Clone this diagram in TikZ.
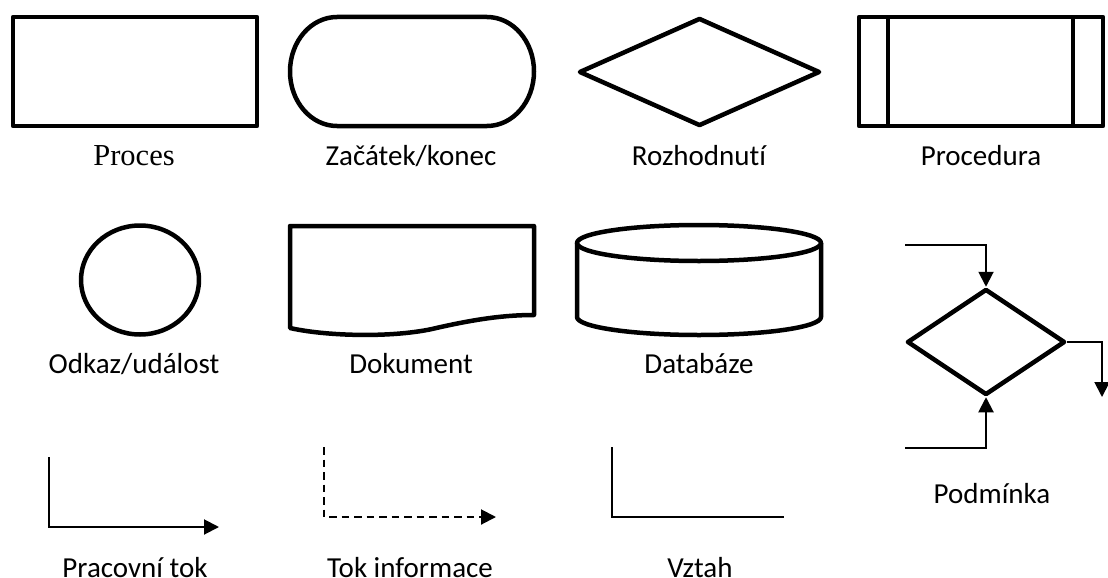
\documentclass[tikz,border=0pt]{standalone}
\usepackage{fontspec}
\setmainfont{Carlito}[Ligatures={NoCommon,NoContextual}]
\newfontfamily\serifface{Liberation Serif}
\usetikzlibrary{arrows.meta,shapes.geometric}

\tikzset{
  symbol/.style={draw, line width=4.5pt, line join=round, inner sep=0pt},
  flowline/.style={line width=2pt},
  flowtip/.style={-{Triangle[length=15pt,width=15pt]}},
  infoline/.style={line width=2pt, dash pattern=on 7.5pt off 5pt},
  relline/.style={line width=1.8pt},
  caption/.style={anchor=base, inner sep=0pt, font=\fontsize{29}{32}\selectfont},
}

\begin{document}
\begin{tikzpicture}[x=1pt, y=-1pt]
\useasboundingbox (0,0) rectangle (1108,578);

% ---------- first row ----------
% process
\node[symbol, rectangle, minimum width=244pt, minimum height=109pt] (proc) at (135,71.5) {};
\node[caption, font=\fontsize{30.5}{32}\selectfont\serifface] (lproc) at (134,165) {Proces};

% start / end (stadium with elliptical ends)
\draw[symbol] (337,17) -- (487,17)
  arc[start angle=-90, end angle=90, x radius=47, y radius=54.5]
  -- (337,126)
  arc[start angle=90, end angle=270, x radius=47, y radius=54.5] -- cycle;
\node[caption] (lstart) at (411,165) {Začátek/konec};

% decision
\node[symbol, diamond, minimum width=241pt, minimum height=108pt] (dec) at (699.5,72) {};
\node[caption] (ldec) at (699,165) {Rozhodnutí};

% predefined procedure
\node[symbol, rectangle, minimum width=244pt, minimum height=109pt] (sub) at (981,71.5) {};
\draw[line width=4.5pt] (888,17) -- (888,126);
\draw[line width=4.5pt] (1073,17) -- (1073,126);
\node[caption] (lsub) at (981,165) {Procedura};

% ---------- second row ----------
% connector / event
\node[symbol, ellipse, minimum width=118pt, minimum height=109pt] (evt) at (140,280) {};
\node[caption] (levt) at (134,373) {Odkaz/událost};

% document
\draw[symbol] (290,226) -- (534,226) -- (534,315)
  .. controls (505,315) and (475,319) .. (432,329)
  .. controls (390,338) and (325,336) .. (290,328) -- cycle;
\node[caption] (ldoc) at (411,373) {Dokument};

% database
\draw[symbol] (577,243) -- (577,317)
  arc[start angle=180, end angle=0, x radius=122, y radius=18]
  -- (821,243);
\draw[symbol] (699,243) ellipse[x radius=122, y radius=18];
\node[caption] (ldb) at (699,373) {Databáze};

% condition with incoming and outgoing flows
\node[symbol, diamond, minimum width=158pt, minimum height=106pt] (cond) at (986,342) {};
\coordinate (inA) at (905,245);
\coordinate (inB) at (905,448);
\coordinate (outC) at (1102,397);
\draw[flowline, flowtip] (inA) -| (cond.north);
\draw[flowline, flowtip] (inB) -| (cond.south);
\draw[flowline, flowtip] (cond.east) -| (outC);
\node[caption] (lcond) at (992,503) {Podmínka};

% ---------- third row ----------
% work flow
\coordinate (wf1) at (49,457);
\coordinate (wf2) at (219,527);
\draw[flowline, flowtip] (wf1) |- (wf2);
\node[caption] (lwf) at (135,577) {Pracovní tok};

% information flow
\coordinate (if1) at (324,447);
\coordinate (if2) at (496,517);
\draw[infoline, flowtip] (if1) |- (if2);
\node[caption] (lif) at (410,577) {Tok informace};

% relation
\coordinate (rl1) at (612,447);
\coordinate (rl2) at (784,517);
\draw[relline] (rl1) |- (rl2);
\node[caption] (lrl) at (700,577) {Vztah};
\end{tikzpicture}
\end{document}
